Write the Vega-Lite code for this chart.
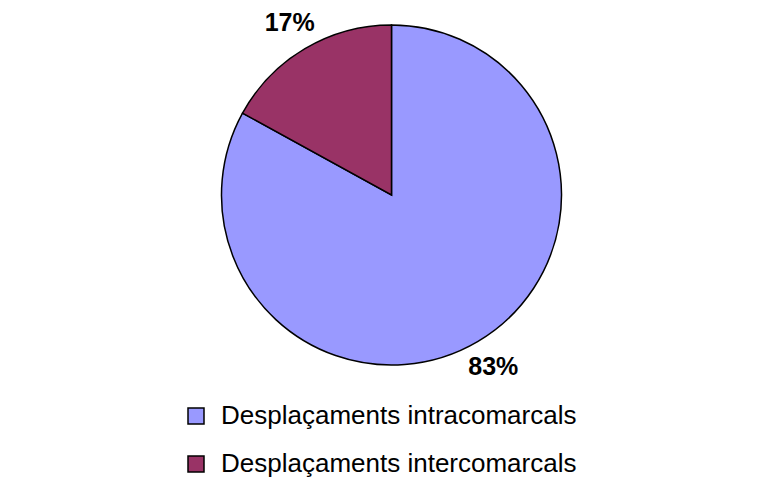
{
  "$schema": "https://vega.github.io/schema/vega-lite/v6.json",
  "width": 783,
  "height": 360,
  "padding": {"top": 10, "left": 0, "right": 0, "bottom": 0},
  "background": "white",
  "view": {"stroke": null},
  "data": {
    "values": [
      {"categoria": "Desplaçaments intracomarcals", "valor": 83, "etiqueta": "83%", "ordre": 1},
      {"categoria": "Desplaçaments intercomarcals", "valor": 17, "etiqueta": "17%", "ordre": 2}
    ]
  },
  "encoding": {
    "theta": {"field": "valor", "type": "quantitative", "stack": true},
    "order": {"field": "ordre", "type": "quantitative"}
  },
  "layer": [
    {
      "mark": {"type": "arc", "outerRadius": 170, "stroke": "black", "strokeWidth": 1.5},
      "encoding": {
        "color": {
          "field": "categoria",
          "type": "nominal",
          "sort": ["Desplaçaments intracomarcals", "Desplaçaments intercomarcals"],
          "scale": {
            "domain": ["Desplaçaments intracomarcals", "Desplaçaments intercomarcals"],
            "range": ["#9999FF", "#993366"]
          },
          "legend": {
            "title": null,
            "orient": "none",
            "legendX": 183,
            "legendY": 388,
            "padding": 0,
            "direction": "vertical",
            "symbolType": "square",
            "symbolSize": 256,
            "symbolStrokeColor": "black",
            "symbolStrokeWidth": 1.5,
            "symbolOpacity": 1,
            "labelFont": "Liberation Sans",
            "labelFontSize": 26,
            "labelColor": "black",
            "labelLimit": 600,
            "labelOffset": 12,
            "rowPadding": 22
          }
        }
      }
    },
    {
      "mark": {"type": "text", "radius": 200, "font": "Liberation Sans", "fontSize": 25, "fontWeight": "bold", "color": "black"},
      "encoding": {
        "text": {"field": "etiqueta", "type": "nominal"}
      }
    }
  ]
}
